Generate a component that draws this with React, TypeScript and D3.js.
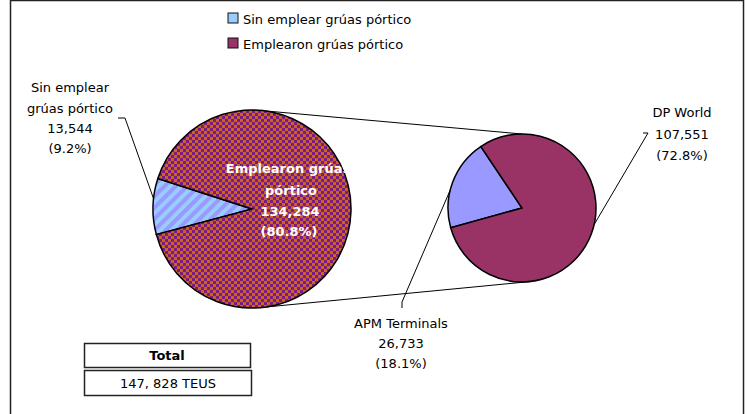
import React from 'react';
import * as d3 from 'd3';

// main pie
const mainLabels = ['Sin emplear grúas pórtico', 'Emplearon grúas pórtico'];
const mainValues = [13544, 134284];
const mainPct = ['9.2%', '80.8%'];

// secondary pie (breakdown of "Emplearon")
const subLabels = ['APM Terminals', 'DP World'];
const subValues = [26733, 107551];
const subPct = ['18.1%', '72.8%'];

const totalLabel = 'Total';
const totalValue = '147, 828 TEUS';

const W = 747;
const H = 414;
const FONT = 'DejaVu Sans, Verdana, sans-serif';
const FS = 13;
const deg = (d: number) => (d * Math.PI) / 180;
const fmt = d3.format(',');

const App = () => {
  const c1 = { x: 252, y: 209, r: 99 };
  const c2 = { x: 522, y: 208, r: 74 };

  const pie1 = d3.pie<number>().sort(null).startAngle(deg(-105)).endAngle(deg(255));
  const pie2 = d3.pie<number>().sort(null).startAngle(deg(-105.5)).endAngle(deg(254.5));
  const arc1 = d3.arc<d3.PieArcDatum<number>>().innerRadius(0).outerRadius(c1.r);
  const arc2 = d3.arc<d3.PieArcDatum<number>>().innerRadius(0).outerRadius(c2.r);

  // point on a circle, d3 angle convention (0 = 12 o'clock, clockwise)
  const pt = (c: { x: number; y: number; r: number }, a: number): [number, number] => [
    c.x + c.r * Math.sin(deg(a)),
    c.y - c.r * Math.cos(deg(a)),
  ];

  const fills1 = ['url(#stripes)', 'url(#checks)'];
  const fills2 = ['#9999ff', '#993366'];

  const t1 = pt(c1, 8), t2 = pt(c2, 0);
  const b1 = pt(c1, 172), b2 = pt(c2, 174);
  const lead1 = pt(c1, -84);
  const leadDP = pt(c2, 103);
  const leadAPM = pt(c2, -76);

  const line = d3.line();

  return (
    <svg width={W} height={H} style={{ position: 'absolute', left: 0, top: 0, background: '#fff' }} fontFamily={FONT}>
      <defs>
        <pattern id="checks" width="6" height="6" patternUnits="userSpaceOnUse">
          <rect width="6" height="6" fill="#7a1a85" />
          <rect x="0" y="0" width="3" height="3" fill="#cc6420" />
          <rect x="3" y="3" width="3" height="3" fill="#cc6420" />
        </pattern>
        <pattern id="stripes" width="8" height="8" patternUnits="userSpaceOnUse" patternTransform="rotate(-45)">
          <rect width="8" height="8" fill="#99ccff" />
          <rect width="8" height="4" fill="#9999ff" />
        </pattern>
      </defs>

      {/* frame */}
      <rect x={10.5} y={0.5} width={733} height={420} fill="none" stroke="#222" strokeWidth={1.5} />

      {/* legend */}
      {mainLabels.map((l, i) => (
        <g key={l} transform={`translate(228,${13 + i * 25})`}>
          <rect width={10} height={10} fill={i === 0 ? '#99ccff' : '#993366'} stroke="#111" strokeWidth={1} />
          <text x={15} y={10.5} fontSize={FS}>{l}</text>
        </g>
      ))}

      {/* connector lines */}
      <path d={line([t1, t2])!} stroke="#000" fill="none" />
      <path d={line([b1, b2])!} stroke="#000" fill="none" />

      {/* main pie */}
      <g transform={`translate(${c1.x},${c1.y})`}>
        {pie1(mainValues).map((d, i) => (
          <path key={i} d={arc1(d)!} fill={fills1[i]} stroke="#000" strokeWidth={1.5} />
        ))}
      </g>

      {/* secondary pie */}
      <g transform={`translate(${c2.x},${c2.y})`}>
        {pie2(subValues).map((d, i) => (
          <path key={i} d={arc2(d)!} fill={fills2[i]} stroke="#000" strokeWidth={1.5} />
        ))}
      </g>

      {/* leader lines */}
      <polyline points={`118,118 125,118 ${lead1[0]},${lead1[1]}`} fill="none" stroke="#000" />
      <polyline points={`643,133 648,133 ${leadDP[0]},${leadDP[1]}`} fill="none" stroke="#000" />
      <polyline points={`402,308 402,302 ${leadAPM[0]},${leadAPM[1]}`} fill="none" stroke="#000" />

      {/* labels */}
      <text textAnchor="middle" fontSize={FS} fill="#000">
        <tspan x={70} y={92}>Sin emplear</tspan>
        <tspan x={70} y={113}>grúas pórtico</tspan>
        <tspan x={70} y={133}>{fmt(mainValues[0])}</tspan>
        <tspan x={70} y={153}>({mainPct[0]})</tspan>
      </text>
      <text textAnchor="middle" fontSize={FS} fontWeight="bold" fill="#fff">
        <tspan x={288} y={173}>Emplearon grúas</tspan>
        <tspan x={291} y={195}>pórtico</tspan>
        <tspan x={290} y={216}>{fmt(mainValues[1])}</tspan>
        <tspan x={289} y={236}>({mainPct[1]})</tspan>
      </text>
      <text textAnchor="middle" fontSize={FS} fill="#000">
        <tspan x={682} y={117}>DP World</tspan>
        <tspan x={682} y={139}>{fmt(subValues[1])}</tspan>
        <tspan x={682} y={160}>({subPct[1]})</tspan>
      </text>
      <text textAnchor="middle" fontSize={FS} fill="#000">
        <tspan x={401} y={328}>{subLabels[0]}</tspan>
        <tspan x={401} y={348}>{fmt(subValues[0])}</tspan>
        <tspan x={401} y={368}>({subPct[0]})</tspan>
      </text>

      {/* total table */}
      <rect x={84.5} y={343.5} width={166} height={24} fill="#fff" stroke="#222" strokeWidth={1.5} />
      <text x={167} y={360} textAnchor="middle" fontSize={FS} fontWeight="bold">{totalLabel}</text>
      <rect x={84.5} y={370.5} width={167} height={25} fill="#fff" stroke="#222" strokeWidth={1.5} />
      <text x={168} y={388} textAnchor="middle" fontSize={FS}>{totalValue}</text>
    </svg>
  );
};

export default App;
